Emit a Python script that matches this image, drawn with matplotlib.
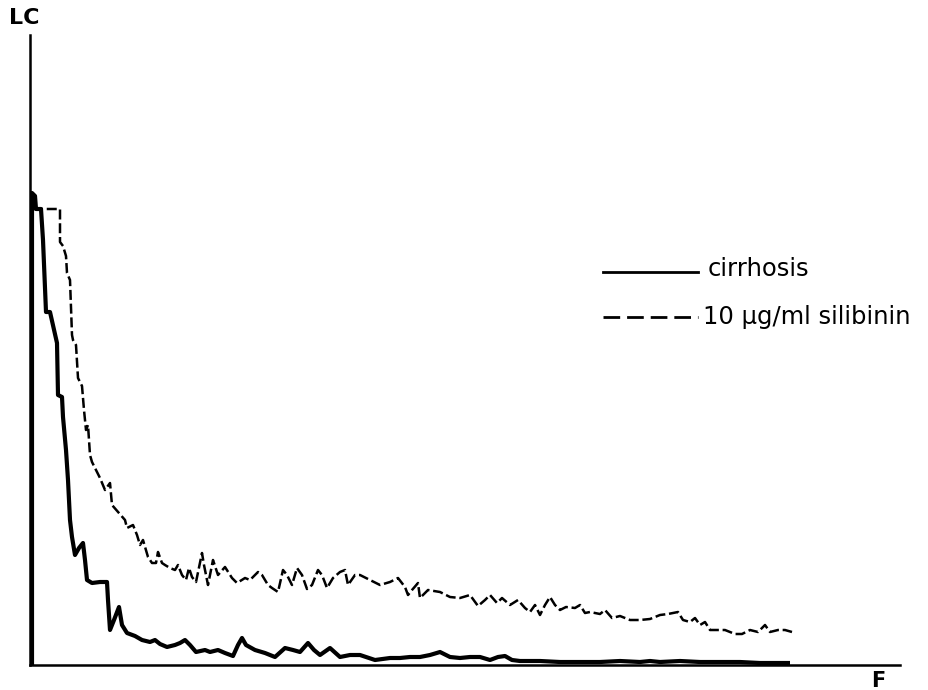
import matplotlib
matplotlib.use("Agg")
import matplotlib.pyplot as plt
from matplotlib.lines import Line2D

# ---- data (F = arbitrary units along x, LC = arbitrary units along y) ----
cirr_f = [2, 2, 5, 6, 11, 13, 16, 20, 27, 28,
          32, 33, 36, 38, 40, 42, 45, 49, 53, 55,
          57, 62, 70, 77, 78, 80, 84, 89, 92, 97,
          105, 112, 120, 125, 130, 137, 145, 150, 155, 160,
          166, 175, 180, 188, 195, 203, 208, 212, 216, 225,
          235, 245, 255, 263, 270, 278, 284, 290, 300, 310,
          320, 330, 345, 360, 370, 380, 390, 400, 410, 420,
          430, 440, 450, 460, 468, 475, 482, 490, 510, 530,
          550, 570, 590, 610, 620, 630, 650, 670, 690, 710,
          730, 760]
cirr_lc = [0, 472, 469, 456, 456, 425, 353, 353, 322, 270,
           268, 248, 215, 185, 145, 128, 110, 117, 122, 105,
           85, 82, 83, 83, 65, 35, 45, 58, 40, 32,
           29, 25, 23, 25, 21, 18, 20, 22, 25, 20,
           13, 15, 13, 15, 12, 9, 20, 27, 20, 15,
           12, 8, 17, 15, 13, 22, 15, 10, 17, 8,
           10, 10, 5, 7, 7, 8, 8, 10, 13, 8,
           7, 8, 8, 5, 8, 9, 5, 4, 4, 3,
           3, 3, 4, 3, 4, 3, 4, 3, 3, 3,
           2, 2]

sil_f = [3, 30, 30, 33, 36, 37, 40, 42, 43, 46,
         48, 52, 54, 56, 58, 60, 62, 65, 70, 75,
         80, 82, 88, 95, 97, 103, 107, 110, 113, 118,
         122, 126, 128, 132, 135, 140, 145, 148, 152, 156,
         159, 162, 166, 172, 174, 178, 183, 188, 195, 202,
         207, 215, 220, 228, 232, 238, 242, 248, 253, 257,
         262, 267, 272, 277, 282, 288, 292, 297, 303, 310,
         315, 318, 325, 330, 340, 350, 360, 368, 375, 378,
         382, 388, 390, 398, 410, 420, 430, 440, 448, 455,
         460, 467, 472, 480, 488, 495, 500, 505, 510, 515,
         520, 525, 530, 536, 545, 550, 555, 560, 570, 575,
         582, 590, 600, 610, 620, 630, 638, 648, 653, 660,
         665, 670, 675, 680, 688, 695, 705, 712, 720, 728,
         735, 740, 748, 755, 762]
sil_lc = [456, 456, 423, 419, 409, 392, 385, 330, 325, 320,
          287, 279, 255, 235, 240, 210, 203, 197, 187, 175,
          182, 160, 153, 145, 137, 140, 130, 120, 125, 108,
          102, 102, 113, 102, 100, 97, 95, 100, 90, 85,
          97, 88, 83, 112, 100, 80, 105, 90, 98, 87,
          82, 87, 85, 93, 90, 80, 77, 73, 95, 90,
          80, 97, 90, 76, 80, 95, 90, 77, 87, 93,
          95, 80, 90, 90, 85, 80, 83, 87, 78, 70,
          75, 82, 67, 75, 73, 68, 67, 70, 59, 65,
          70, 62, 67, 60, 65, 57, 53, 60, 50, 60,
          68, 60, 55, 58, 57, 60, 52, 53, 51, 55,
          47, 49, 45, 45, 46, 50, 51, 53, 45, 43,
          47, 40, 43, 35, 35, 35, 31, 31, 35, 33,
          40, 33, 35, 35, 33]

assert len(cirr_f) == len(cirr_lc)
assert len(sil_f) == len(sil_lc)

labels = ["cirrhosis", "10 \u03bcg/ml silibinin"]
x_name, y_name = "F", "LC"

W, H = 929, 690
fig = plt.figure(figsize=(W / 100, H / 100), dpi=100)
fig.patch.set_facecolor("white")
ax = fig.add_axes([30 / W, 25 / H, 870 / W, 630 / H])
ax.set_xlim(0, 870)
ax.set_ylim(0, 630)
ax.set_facecolor("white")

for s in ["top", "right"]:
    ax.spines[s].set_visible(False)
for s in ["left", "bottom"]:
    ax.spines[s].set_linewidth(1.8)
    ax.spines[s].set_color("black")
ax.set_xticks([])
ax.set_yticks([])

ax.plot(cirr_f, cirr_lc, color="black", lw=3.0, solid_joinstyle="round",
        solid_capstyle="butt", zorder=3)
ax.plot(sil_f, sil_lc, color="black", lw=1.8, linestyle=(0, (4, 1.5)),
        zorder=2)

# axis labels
fig.text(9 / W, 1 - 18 / H, y_name, fontsize=16, fontweight="bold",
         va="center", ha="left", family="DejaVu Sans")
fig.text(878 / W, 1 - 681 / H, x_name, fontsize=15, fontweight="bold",
         va="center", ha="center", family="DejaVu Sans")

# legend drawn by hand
def fy(py):
    return 1 - py / H

fig.add_artist(Line2D([603 / W, 698 / W], [fy(272), fy(272)], color="black",
                      lw=2.0))
fig.add_artist(Line2D([603 / W, 698 / W], [fy(317), fy(317)], color="black",
                      lw=2.0, linestyle=(0, (6, 2.5))))
fig.text(708 / W, fy(269), labels[0], fontsize=17.5, va="center", ha="left",
         family="DejaVu Sans")
fig.text(703 / W, fy(317), labels[1], fontsize=17.5, va="center", ha="left",
         family="DejaVu Sans")

fig.savefig("out.png", dpi=100, facecolor="white")
